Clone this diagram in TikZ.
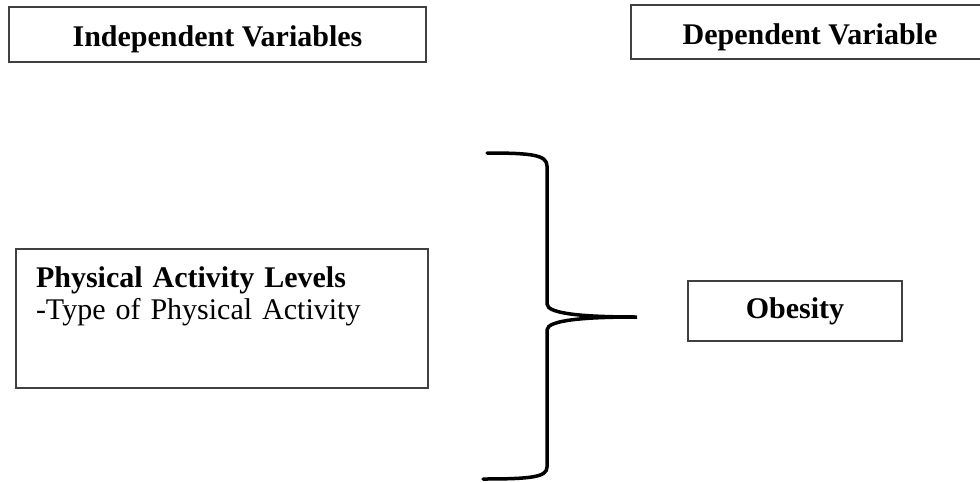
\documentclass[tikz,border=0pt]{standalone}
\usepackage{fontspec}
\setmainfont{Liberation Serif}
\tikzset{
  varbox/.style={draw=black!75, line width=2pt, font=\fontsize{30}{32}\selectfont\bfseries, inner sep=0pt},
  headbox/.style={varbox, text height=27pt, text depth=3pt},
  bracket/.style={line width=3.5pt, line cap=round}
}
\begin{document}
\begin{tikzpicture}[x=1pt,y=-1pt]
\useasboundingbox (0,0) rectangle (980,482);
% Heading boxes
\node[headbox, minimum width=417pt, minimum height=55pt] (indep) at (217.5,34.5) {Independent Variables};
\node[headbox, minimum width=358pt, minimum height=54pt] (dep) at (810,32) {Dependent Variable};
% Independent variable box
\node[varbox, anchor=north west, font=\fontsize{30}{32}\selectfont, align=left, text width=372pt,
      inner xsep=20pt, inner ysep=17.5pt, text height=20.5pt, text depth=83.5pt] (phys) at (15,248)
  {\textbf{Physical Activity Levels}\\-Type of Physical Activity};
% Dependent variable box
\node[varbox, minimum width=214pt, minimum height=60pt] (obes) at (795,311) {Obesity};
% Brace
\coordinate (tip) at (637,317);
\draw[bracket] (487,153) .. controls (532,153) and (547,155) .. (547,166) -- (547,304)
  .. controls (547,314) and (585,317) .. (tip)
  .. controls (585,317) and (547,320) .. (547,330) -- (547,467)
  .. controls (547,477) and (532,479) .. (483,479);
\end{tikzpicture}
\end{document}
